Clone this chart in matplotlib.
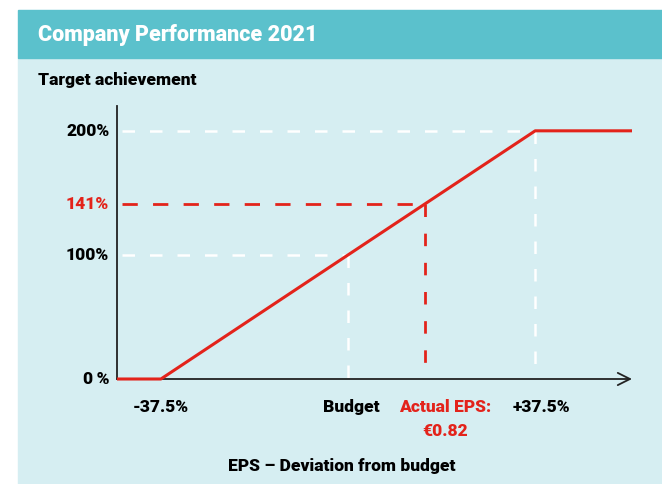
import numpy as np
import matplotlib.pyplot as plt
from matplotlib.patches import Rectangle

plt.rcParams['font.family'] = ['Roboto', 'DejaVu Sans']

# payout curve: EPS deviation from budget (%) vs. target achievement (%)
curve_x = [-46.3, -37.5, 37.5, 56.9]
curve_y = [0, 0, 200, 200]
budget_x = 0.0
cap_x = 37.5
floor_x = -37.5
actual_pct = 141
actual_x = floor_x + (cap_x - floor_x) * actual_pct / 200.0
y_ticks = [0, 100, 141, 200]
y_labels = ['0\u2009%', '100%', '141%', '200%']

RED = '#e3231b'
BAND = '#5bc1cc'
PANEL = '#d6eef2'
WEIGHT = 'heavy'

fig = plt.figure(figsize=(6.62, 4.84), dpi=100)
W, H = 662, 484

# background panel and title band
fig.patches.append(Rectangle((18 / W, 0), 1 - 18 / W, (H - 58) / H,
                             transform=fig.transFigure, color=PANEL, zorder=-2))
fig.patches.append(Rectangle((18 / W, (H - 58) / H), 1 - 18 / W, 48 / H,
                             transform=fig.transFigure, color=BAND, zorder=-2))
fig.text(38 / W, 1 - 35 / H, 'Company Performance 2021', color='white',
         fontsize=15.5, fontweight=WEIGHT, va='center', ha='left')
fig.text(38 / W, 1 - 80 / H, 'Target achievement', color='black',
         fontsize=12.5, fontweight=WEIGHT, va='center', ha='left')

ax = fig.add_axes([117 / W, (H - 379) / H, (632 - 117) / W, (379 - 106) / H])
ax.set_zorder(2)
ax.patch.set_visible(False)
ax.set_xlim(curve_x[0], curve_x[-1])
ax.set_ylim(0, 220)
for s in ['top', 'right', 'bottom']:
    ax.spines[s].set_visible(False)
ax.spines['left'].set_color('#222222')
ax.spines['left'].set_linewidth(1.3)
ax.set_xticks([])
ax.set_yticks([])

# x axis with open arrow head
ax.annotate('', xy=(curve_x[-1], 0), xytext=(curve_x[0], 0),
            arrowprops=dict(arrowstyle='->', color='#222222', lw=1.3,
                            mutation_scale=22, shrinkA=0, shrinkB=0),
            annotation_clip=False)

# white reference lines
dash = dict(color='white', lw=1.8, dashes=(5, 6), zorder=1)
ax.plot([curve_x[0] + 1, cap_x], [200, 200], **dash)
ax.plot([cap_x, cap_x], [200, 1], **dash)
ax.plot([curve_x[0] + 1, budget_x], [100, 100], **dash)
ax.plot([budget_x, budget_x], [100, 1], **dash)

# actual result
ax.plot([curve_x[0] + 1, actual_x], [actual_pct, actual_pct], color=RED,
        lw=2, dashes=(5.5, 5.5), zorder=2)
ax.plot([actual_x, actual_x], [actual_pct, 1], color=RED, lw=2,
        dashes=(4.5, 6), zorder=2)

ax.plot(curve_x, curve_y, color=RED, lw=2.2, zorder=3, clip_on=False,
        solid_capstyle='butt')

# y tick labels
for v, lab in zip(y_ticks, y_labels):
    ax.text(-0.015, v, lab, transform=ax.get_yaxis_transform(), ha='right',
            va='center', fontsize=12.5, fontweight=WEIGHT,
            color=RED if v == actual_pct else 'black')

# x tick labels
tr = ax.get_xaxis_transform()
lab_y = -28 / (379 - 106)
ax.text(floor_x, lab_y, '-37.5%', transform=tr, ha='center', va='center',
        fontsize=12.5, fontweight=WEIGHT)
ax.text(budget_x + 0.6, lab_y, 'Budget', transform=tr, ha='center',
        va='center', fontsize=12.5, fontweight=WEIGHT)
ax.text(cap_x + 1.2, lab_y, '+37.5%', transform=tr, ha='center',
        va='center', fontsize=12.5, fontweight=WEIGHT)
ax.text(actual_x + 4, lab_y, 'Actual EPS:', transform=tr, ha='center',
        va='center', fontsize=12.5, fontweight=WEIGHT, color=RED)
ax.text(actual_x + 4, lab_y - 24 / (379 - 106), '\u20ac0.82', transform=tr,
        ha='center', va='center', fontsize=12.5, fontweight=WEIGHT, color=RED)

fig.text(342 / W, 1 - 466 / H, 'EPS \u2013 Deviation from budget',
         ha='center', va='center', fontsize=12.5, fontweight=WEIGHT)

fig.savefig('out.png', dpi=100)
